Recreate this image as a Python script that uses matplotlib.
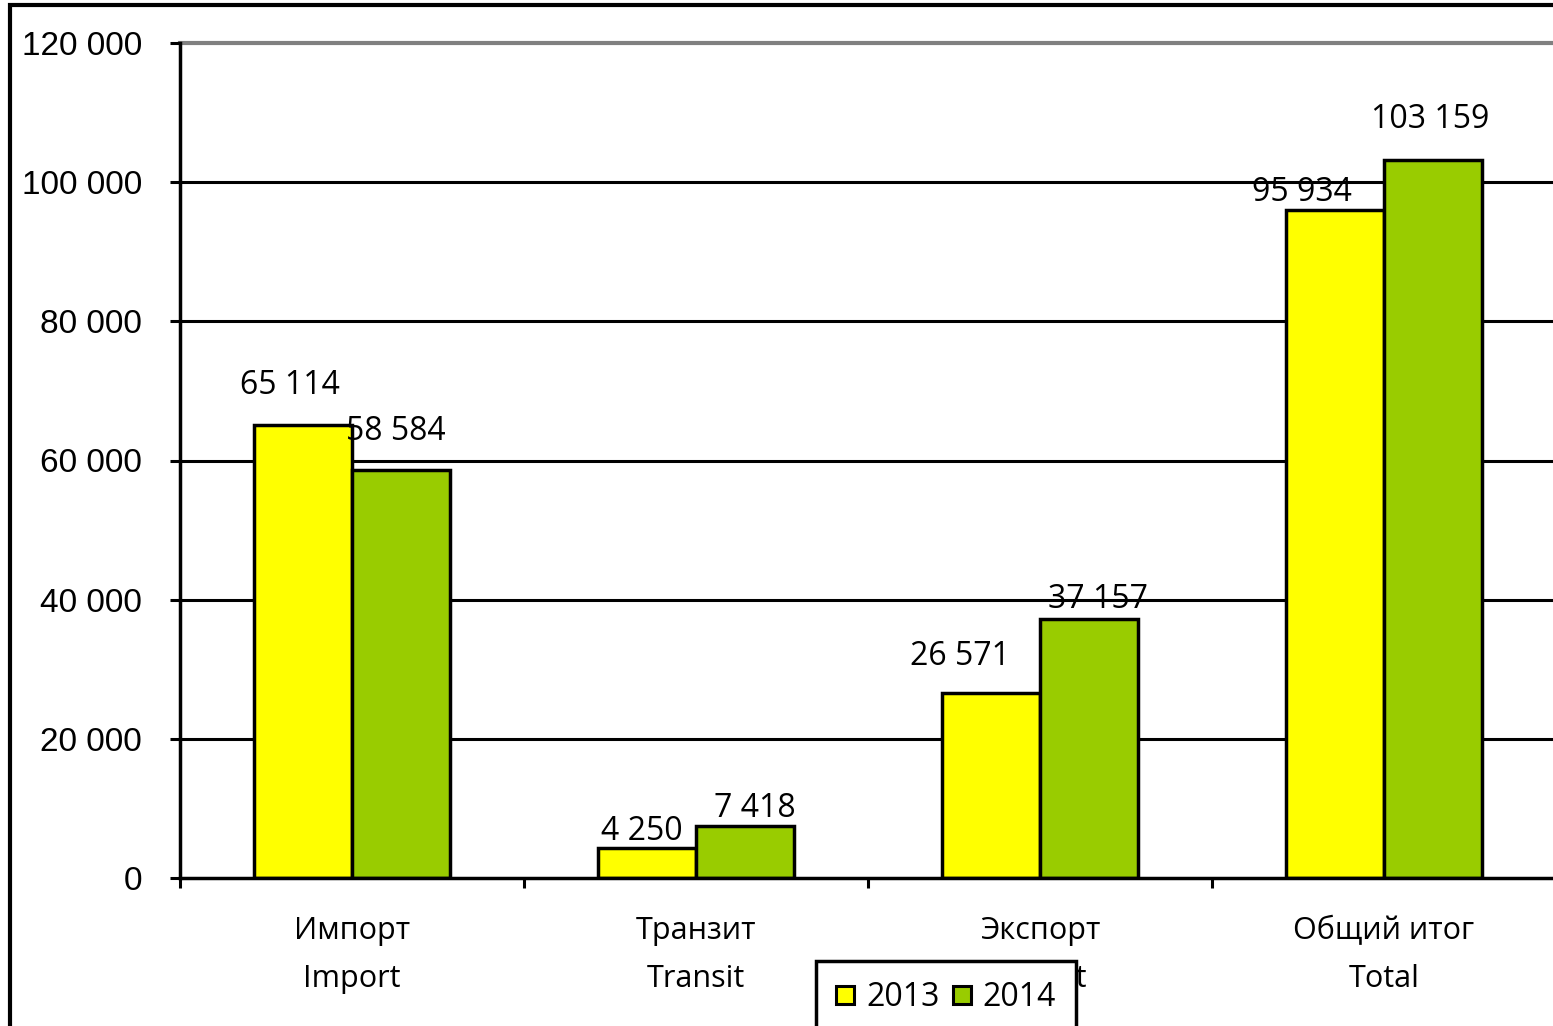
import matplotlib
matplotlib.use("Agg")
import matplotlib.pyplot as plt
import matplotlib.transforms as mtransforms
from matplotlib.patches import Rectangle
from matplotlib.lines import Line2D
import numpy as np

# ---- data ----
categories_ru = ["Импорт", "Транзит", "Экспорт", "Общий итог"]
categories_en = ["Import", "Transit", "Export", "Total"]
years = ["2013", "2014"]
values_2013 = [65114, 4250, 26571, 95934]
values_2014 = [58584, 7418, 37157, 103159]
y_ticks = [0, 20000, 40000, 60000, 80000, 100000, 120000]

# label offsets (pixels) – styling only
offsets_2013 = [(-13, 39), (-5, 17), (-31, 37), (-33, 18)]
offsets_2014 = [(-5, 39), (10, 18), (9, 20), (-3, 41)]

W, H = 1553, 1026
DPI = 100
fig = plt.figure(figsize=(W / DPI, H / DPI), dpi=DPI)
fig.patch.set_facecolor("white")

LABEL_FONT = ["Open Sans", "DejaVu Sans"]
TICK_FONT = ["Liberation Sans", "DejaVu Sans"]
LBL_SIZE = 23

left_px, right_px, top_px, bottom_px = 180, 1556, 43, 878
ax = fig.add_axes([left_px / W, 1 - bottom_px / H,
                   (right_px - left_px) / W, (bottom_px - top_px) / H])

yellow = "#FFFF00"
green = "#99CC00"
bw = 1 / 3.5
x = np.arange(len(categories_ru))

bars1 = ax.bar(x - bw / 2, values_2013, bw, color=yellow, edgecolor="black",
               linewidth=2.5, zorder=3)
bars2 = ax.bar(x + bw / 2, values_2014, bw, color=green, edgecolor="black",
               linewidth=2.5, zorder=3)

ax.set_xlim(-0.5, 3.5)
ax.set_ylim(0, 120000)

# gridlines
for yv in y_ticks[1:-1]:
    ax.axhline(yv, color="black", lw=2.2, zorder=1)
ax.axhline(120000, color="#808080", lw=3, zorder=1, clip_on=False)

for s in ["top", "right"]:
    ax.spines[s].set_visible(False)
for s in ["left", "bottom"]:
    ax.spines[s].set_color("black")
    ax.spines[s].set_linewidth(2.5)
    ax.spines[s].set_zorder(4)

ax.set_yticks(y_ticks)
ax.set_yticklabels([f"{v:,}".replace(",", " ") for v in y_ticks],
                   fontfamily=TICK_FONT, fontsize=24)
ax.tick_params(axis="y", direction="out", length=7.5, width=2.2, pad=20,
               colors="black")

ax.set_xticks(np.arange(-0.5, 4.0, 1.0))
ax.set_xticklabels([])
ax.tick_params(axis="x", direction="out", length=7.5, width=2.2)

# category labels
trans = mtransforms.blended_transform_factory(ax.transData, fig.transFigure)
for i in range(len(categories_ru)):
    ax.text(x[i], 1 - 931 / H, categories_ru[i], transform=trans, ha="center",
            va="center", fontsize=LBL_SIZE - 1, fontfamily=LABEL_FONT,
            clip_on=False, zorder=2)
    ax.text(x[i], 1 - 979 / H, categories_en[i], transform=trans, ha="center",
            va="center", fontsize=LBL_SIZE - 1, fontfamily=LABEL_FONT,
            clip_on=False, zorder=2)

# data labels
def fmt(v):
    return f"{v:,}".replace(",", " ")

for bars, vals, offs in [(bars1, values_2013, offsets_2013),
                         (bars2, values_2014, offsets_2014)]:
    for b, v, (dx, dy) in zip(bars, vals, offs):
        ax.annotate(fmt(v), xy=(b.get_x() + b.get_width() / 2, v),
                    xytext=(dx, dy), textcoords="offset pixels",
                    ha="center", va="center", fontsize=LBL_SIZE,
                    fontfamily=LABEL_FONT, zorder=5, annotation_clip=False)

# legend
handles = [Line2D([], [], marker="s", linestyle="none", markersize=13,
                  markerfacecolor=c, markeredgecolor="black",
                  markeredgewidth=2.2) for c in (yellow, green)]
leg = fig.legend(handles, years, loc="upper left",
                 bbox_to_anchor=(816 / W, 1 - 961 / H), ncol=2,
                 frameon=True, fancybox=False, framealpha=1, borderaxespad=0,
                 handlelength=0.6, handletextpad=0.35, columnspacing=0.4,
                 borderpad=0.62, prop={"family": LABEL_FONT, "size": LBL_SIZE})
leg.get_frame().set_edgecolor("black")
leg.get_frame().set_linewidth(2.5)
leg.get_frame().set_facecolor("white")
leg.set_zorder(10)

# outer frame
fig.patches.append(Rectangle((10 / W, -0.1), 2, 1 - 5 / H + 0.1,
                             transform=fig.transFigure, fill=False,
                             edgecolor="black", linewidth=3, zorder=0))

fig.savefig("out.png", dpi=DPI)
